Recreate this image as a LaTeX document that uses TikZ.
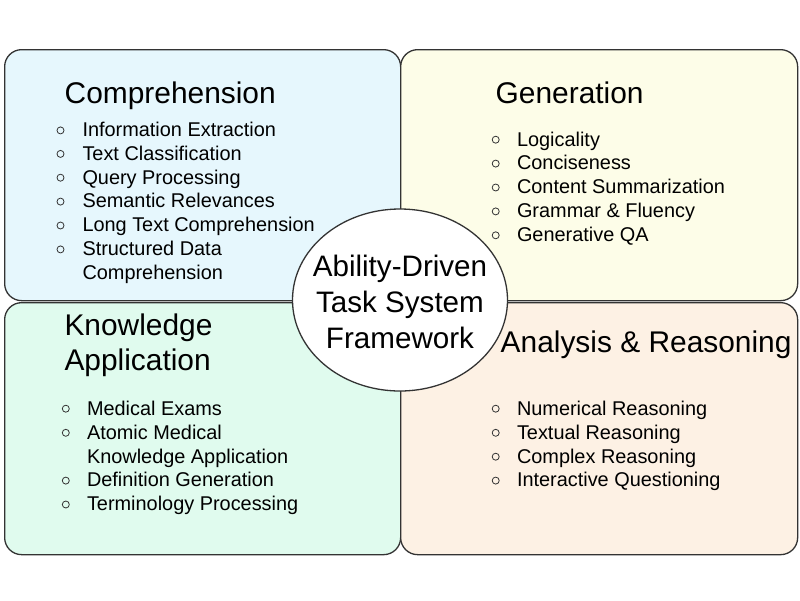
\documentclass[tikz,border=0pt]{standalone}
\usepackage{fontspec}
\setmainfont{Liberation Sans}
\usetikzlibrary{shapes.geometric}
\definecolor{cbg}{HTML}{E6F7FD}
\definecolor{gbg}{HTML}{FDFDE8}
\definecolor{kbg}{HTML}{E0FBEE}
\definecolor{abg}{HTML}{FDF1E4}
\definecolor{edge}{HTML}{333333}
\tikzset{
  quad/.style={draw=edge, line width=1.3pt, rounded corners=17pt, inner sep=0pt, anchor=north west},
  core/.style={draw=edge, line width=1.3pt, fill=white, ellipse, inner sep=0pt, minimum width=215pt, minimum height=182pt},
  title/.style={anchor=base west, inner sep=0pt, font=\fontsize{29.9}{36}\selectfont},
  coretext/.style={anchor=base, inner sep=0pt, font=\fontsize{29.6}{36}\selectfont},
  item/.style={anchor=base west, inner sep=0pt, font=\fontsize{19.9}{24}\selectfont},
  bul/.style={draw=edge, line width=0.8pt, circle, inner sep=0pt, minimum size=7pt}
}
\begin{document}
\begin{tikzpicture}[x=1pt,y=-1pt]
\useasboundingbox[fill=white] (0,0) rectangle (800,600);
% quadrants
\node[quad, fill=cbg, minimum width=396pt, minimum height=251pt] (qc) at (4,49) {};
\node[quad, fill=gbg, minimum width=397pt, minimum height=251pt] (qg) at (400,49) {};
\node[quad, fill=kbg, minimum width=396pt, minimum height=252pt] (qk) at (4,302) {};
\node[quad, fill=abg, minimum width=397pt, minimum height=252pt] (qa) at (400,302) {};
% centre
\node[core] (hub) at (400,300) {};
\node[coretext] (h1) at (400,276.7) {Ability-Driven};
\node[coretext] (h2) at (400,312.7) {Task System};
\node[coretext] (h3) at (400,348.3) {Framework};
% Comprehension
\node[title] (tc) at (64.5,103) {Comprehension};
\node[bul] (bc1) at (60.5,130.4) {};
\node[item] (c1) at (82.3,136.7) {Information Extraction};
\node[bul] (bc2) at (60.5,153.9) {};
\node[item] (c2) at (82.3,160.2) {Text Classification};
\node[bul] (bc3) at (60.5,177.7) {};
\node[item] (c3) at (82.3,184) {Query Processing};
\node[bul] (bc4) at (60.5,201.6) {};
\node[item] (c4) at (82.3,207.9) {Semantic Relevances};
\node[bul] (bc5) at (60.5,225.5) {};
\node[item] (c5) at (82.3,231.8) {Long Text Comprehension};
\node[bul] (bc6) at (60.5,249.4) {};
\node[item] (c6) at (82.3,255.7) {Structured Data};
\node[item] (c6b) at (82.3,279.4) {Comprehension};
% Generation
\node[title] (tg) at (495.5,103.3) {Generation};
\node[bul] (bg1) at (495.7,139.7) {};
\node[item] (g1) at (516.8,146) {Logicality};
\node[bul] (bg2) at (495.7,163.6) {};
\node[item] (g2) at (516.8,169.9) {Conciseness};
\node[bul] (bg3) at (495.7,187.5) {};
\node[item] (g3) at (516.8,193.8) {Content Summarization};
\node[bul] (bg4) at (495.7,211.4) {};
\node[item] (g4) at (516.8,217.7) {Grammar \& Fluency};
\node[bul] (bg5) at (495.7,235.3) {};
\node[item] (g5) at (516.8,241.6) {Generative QA};
% Knowledge Application
\node[title] (tk1) at (64.3,335) {Knowledge};
\node[title] (tk2) at (64.3,370.7) {Application};
\node[bul] (bk1) at (65.8,408.7) {};
\node[item] (k1) at (86.8,415) {Medical Exams};
\node[bul] (bk2) at (65.8,432.8) {};
\node[item] (k2) at (86.8,439.1) {Atomic Medical};
\node[item] (k2b) at (86.8,463) {Knowledge Application};
\node[bul] (bk3) at (65.8,480.6) {};
\node[item] (k3) at (86.8,486.9) {Definition Generation};
\node[bul] (bk4) at (65.8,504.5) {};
\node[item] (k4) at (86.8,510.8) {Terminology Processing};
% Analysis & Reasoning
\node[title] (ta) at (500.5,352.3) {Analysis \& Reasoning};
\node[bul] (ba1) at (495.7,408.7) {};
\node[item] (a1) at (516.8,415) {Numerical Reasoning};
\node[bul] (ba2) at (495.7,432.8) {};
\node[item] (a2) at (516.8,439.1) {Textual Reasoning};
\node[bul] (ba3) at (495.7,456.7) {};
\node[item] (a3) at (516.8,463) {Complex Reasoning};
\node[bul] (ba4) at (495.7,480.6) {};
\node[item] (a4) at (516.8,486.9) {Interactive Questioning};
\end{tikzpicture}
\end{document}
